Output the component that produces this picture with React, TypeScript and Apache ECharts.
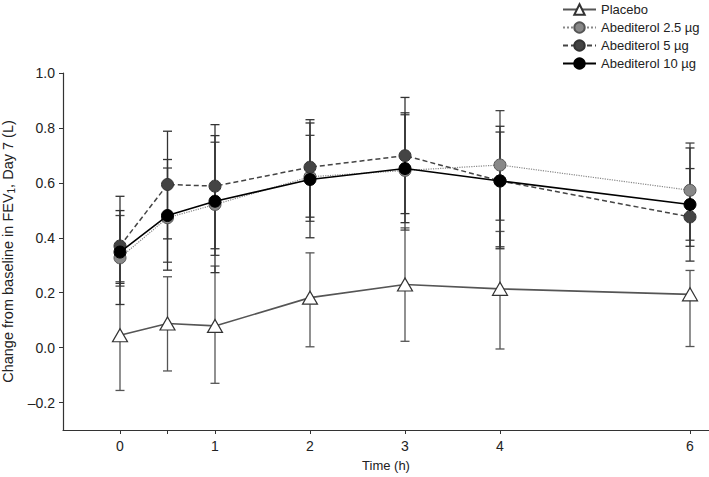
import React, { useEffect, useRef } from "react";
import * as echarts from "echarts";

const times = [0, 0.5, 1, 2, 3, 4, 6];
const xTickValues = [0, 0.5, 1, 2, 3, 4, 6];
const xLabelValues = [0, 1, 2, 3, 4, 6];
const yLabelValues = [-0.2, 0, 0.2, 0.4, 0.6, 0.8, 1.0];

const seriesNames = ["Placebo", "Abediterol 2.5 µg", "Abediterol 5 µg", "Abediterol 10 µg"];

const placeboMean = [0.045, 0.088, 0.079, 0.182, 0.23, 0.214, 0.194];
const placeboLow = [-0.156, -0.085, -0.13, 0.003, 0.023, -0.005, 0.004];
const placeboHigh = [0.24, 0.258, 0.297, 0.345, 0.436, 0.423, 0.281];

const abed25Mean = [0.327, 0.473, 0.521, 0.622, 0.645, 0.665, 0.573];
const abed25Low = [0.224, 0.311, 0.336, 0.46, 0.428, 0.464, 0.391];
const abed25High = [0.481, 0.654, 0.748, 0.773, 0.848, 0.863, 0.745];

const abed5Mean = [0.37, 0.594, 0.588, 0.657, 0.699, 0.607, 0.476];
const abed5Low = [0.234, 0.396, 0.36, 0.475, 0.488, 0.36, 0.315];
const abed5High = [0.551, 0.788, 0.812, 0.83, 0.911, 0.785, 0.652];

const abed10Mean = [0.348, 0.481, 0.533, 0.612, 0.652, 0.607, 0.521];
const abed10Low = [0.157, 0.282, 0.273, 0.4, 0.455, 0.367, 0.369];
const abed10High = [0.499, 0.685, 0.772, 0.818, 0.855, 0.806, 0.727];

const FONT = "'Liberation Sans', Arial, Helvetica, sans-serif";

function pairs(vals: number[]) {
  return times.map((t, i) => [t, vals[i]]);
}
function errData(lo: number[], hi: number[]) {
  return times.map((t, i) => [t, lo[i], hi[i]]);
}

function errSeries(lo: number[], hi: number[], color: string) {
  return {
    type: "custom",
    z: 1,
    silent: true,
    data: errData(lo, hi),
    encode: { x: 0, y: [1, 2] },
    renderItem: (params: any, api: any) => {
      const x = api.value(0);
      const a = api.coord([x, api.value(1)]);
      const b = api.coord([x, api.value(2)]);
      const w = 4.5;
      const style = { stroke: color, lineWidth: 1.3 };
      return {
        type: "group",
        children: [
          { type: "line", shape: { x1: a[0], y1: a[1], x2: b[0], y2: b[1] }, style },
          { type: "line", shape: { x1: a[0] - w, y1: a[1], x2: a[0] + w, y2: a[1] }, style },
          { type: "line", shape: { x1: b[0] - w, y1: b[1], x2: b[0] + w, y2: b[1] }, style },
        ],
      };
    },
  };
}

export default function App() {
  const ref = useRef<HTMLDivElement>(null);
  useEffect(() => {
    if (!ref.current) return;
    const chart = echarts.init(ref.current, undefined, { renderer: "svg" });
    const option: any = {
      animation: false,
      backgroundColor: "#ffffff",
      textStyle: { fontFamily: FONT },
      grid: { left: 63, right: 0, top: 73, bottom: 47, containLabel: false, outerBoundsMode: "none" },
      legend: {
        orient: "vertical",
        left: 557,
        top: -2,
        itemWidth: 33,
        itemHeight: 13,
        itemGap: 5,
        textStyle: { fontFamily: FONT, fontSize: 13, color: "#222" },
        data: seriesNames,
      },
      xAxis: {
        type: "value",
        min: -0.6,
        max: 6.2,
        name: "Time (h)",
        nameLocation: "middle",
        nameGap: 29,
        nameTextStyle: { fontFamily: FONT, fontSize: 13, color: "#222" },
        axisLine: { onZero: false, lineStyle: { color: "#333", width: 1.2 } },
        axisTick: { customValues: xTickValues, length: 4, lineStyle: { color: "#333" } },
        axisLabel: {
          customValues: xLabelValues,
          margin: 9,
          fontFamily: FONT,
          fontSize: 14,
          color: "#222",
        },
        splitLine: { show: false },
      },
      yAxis: {
        type: "value",
        min: -0.3,
        max: 1.0,
        name: "Change from baseline in FEV{sub|1}, Day 7 (L)",
        nameLocation: "middle",
        nameGap: 41,
        nameTextStyle: {
          fontFamily: FONT,
          fontSize: 14.5,
          color: "#222",
          rich: { sub: { fontFamily: FONT, fontSize: 10, color: "#222", padding: [7, 0, 0, 0] } },
        },
        axisLine: { show: true, onZero: false, lineStyle: { color: "#333", width: 1.2 } },
        axisTick: { show: true, customValues: yLabelValues, length: 4, lineStyle: { color: "#333" } },
        axisLabel: {
          customValues: yLabelValues,
          margin: 8,
          fontFamily: FONT,
          fontSize: 14,
          color: "#222",
          formatter: (v: number) => {
            const s = Math.abs(v).toFixed(1);
            return v < -1e-9 ? "\u2013" + s : s;
          },
        },
        splitLine: { show: false },
      },
      series: [
        errSeries(placeboLow, placeboHigh, "#555"),
        errSeries(abed25Low, abed25High, "#444"),
        errSeries(abed5Low, abed5High, "#333"),
        errSeries(abed10Low, abed10High, "#333"),
        {
          name: seriesNames[0],
          type: "line",
          z: 3,
          data: pairs(placeboMean),
          symbol: "triangle",
          symbolSize: [15, 13],
          lineStyle: { color: "#555", width: 1.6, type: "solid" },
          itemStyle: { color: "#ffffff", borderColor: "#333", borderWidth: 1.2 },
        },
        {
          name: seriesNames[1],
          type: "line",
          z: 4,
          data: pairs(abed25Mean),
          symbol: "circle",
          symbolSize: 12,
          lineStyle: { color: "#888", width: 1.2, type: "dotted" },
          itemStyle: { color: "#888", borderColor: "#555", borderWidth: 1 },
        },
        {
          name: seriesNames[2],
          type: "line",
          z: 5,
          data: pairs(abed5Mean),
          symbol: "circle",
          symbolSize: 12,
          lineStyle: { color: "#444", width: 1.5, type: [5, 3] },
          itemStyle: { color: "#444", borderColor: "#333", borderWidth: 1 },
        },
        {
          name: seriesNames[3],
          type: "line",
          z: 6,
          data: pairs(abed10Mean),
          symbol: "circle",
          symbolSize: 12,
          lineStyle: { color: "#000", width: 1.6, type: "solid" },
          itemStyle: { color: "#000", borderColor: "#000", borderWidth: 1 },
        },
      ],
    };
    chart.setOption(option);
    return () => chart.dispose();
  }, []);
  return (
    <div
      ref={ref}
      style={{ position: "fixed", left: 0, top: 0, width: 709, height: 477, background: "#fff" }}
    />
  );
}
